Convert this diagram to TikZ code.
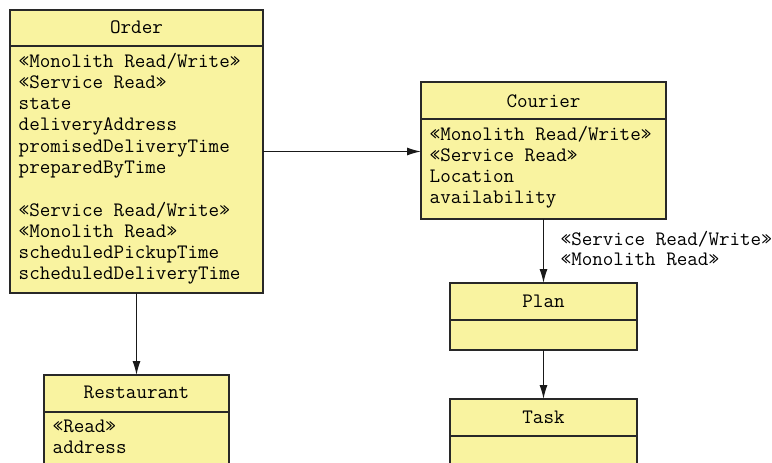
\documentclass[tikz,border=0pt]{standalone}
\usepackage{fontspec}
\usetikzlibrary{arrows.meta}
\definecolor{umlfill}{RGB}{249,243,160}
\definecolor{umlline}{RGB}{40,40,40}
\begin{document}
\begin{tikzpicture}[x=1pt,y=-1pt,
  box/.style={draw=umlline, fill=umlfill, line width=1.1pt, rectangle, anchor=north west, inner sep=0pt, outer sep=0pt},
  divider/.style={draw=umlline, line width=1.1pt},
  txt/.style={anchor=base west, inner sep=0pt, font=\ttfamily\fontsize{20.5}{24}\selectfont, text=black},
  ttl/.style={anchor=base, inner sep=0pt, font=\ttfamily\fontsize{20.5}{24}\selectfont, text=black},
  arr/.style={-{Latex[length=14pt,width=8pt]}, line width=1.2pt, draw=black!90}]
\useasboundingbox (0,0) rectangle (772,463);
\clip (0,0) rectangle (772,463);

% boxes
\node[box, minimum width=253pt, minimum height=283pt] (order) at (10,10) {};
\node[box, minimum width=245pt, minimum height=137pt] (courier) at (421,82) {};
\node[box, minimum width=187pt, minimum height=67pt] (plan) at (450,283) {};
\node[box, minimum width=187pt, minimum height=120pt] (task) at (450,399) {};
\node[box, minimum width=185pt, minimum height=120pt] (restaurant) at (44,375) {};

% dividers
\draw[divider] (10,46) -- (263,46);
\draw[divider] (421,119) -- (666,119);
\draw[divider] (450,320) -- (637,320);
\draw[divider] (450,436) -- (637,436);
\draw[divider] (44,412) -- (229,412);

% titles
\node[ttl] (ordert) at (136.5,33) {Order};
\node[ttl] (couriert) at (543.5,107) {Courier};
\node[ttl] (plant) at (543.5,307) {Plan};
\node[ttl] (taskt) at (543.5,423) {Task};
\node[ttl] (restaurantt) at (136.5,398) {Restaurant};

% Order attributes
\foreach \t [count=\i from 0] in {«Monolith Read/Write», «Service Read», state, deliveryAddress, promisedDeliveryTime, preparedByTime}
  \node[txt] (oa\i) at (18.5, 67+21.3*\i) {\t};
\foreach \t [count=\i from 0] in {«Service Read/Write», «Monolith Read», scheduledPickupTime, scheduledDeliveryTime}
  \node[txt] (ob\i) at (18.5, 216+21.3*\i) {\t};

% Courier attributes
\foreach \t [count=\i from 0] in {«Monolith Read/Write», «Service Read», Location, availability}
  \node[txt] (ca\i) at (429.5, 140+21.3*\i) {\t};

% Restaurant attributes
\foreach \t [count=\i from 0] in {«Read», address}
  \node[txt] (ra\i) at (52.5, 432+21.3*\i) {\t};

% connectors
\draw[arr] (order.east) -- (order.east -| courier.west);
\draw[arr] (order.south) -- (restaurant.north);
\draw[arr] (courier.south) -- (plan.north);
\draw[arr] (plan.south) -- (task.north);

% connector label
\node[txt] (lab1) at (560.5,245) {«Service Read/Write»};
\node[txt] (lab2) at (560.5,265) {«Monolith Read»};
\end{tikzpicture}
\end{document}
